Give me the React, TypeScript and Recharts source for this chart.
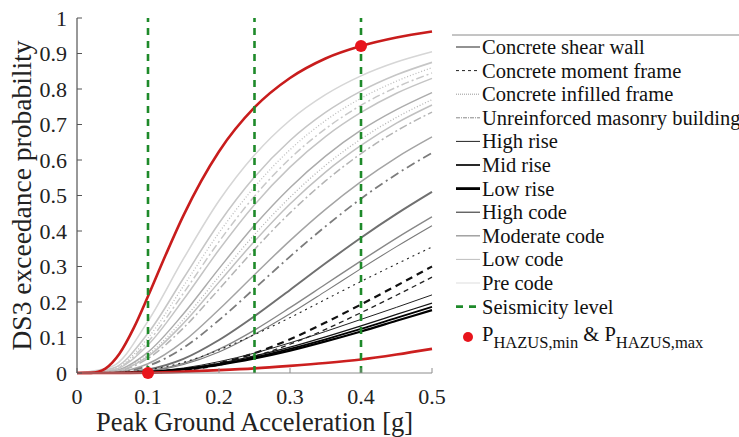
import React from 'react';
import { ComposedChart, Line, Scatter, XAxis, YAxis, ReferenceLine } from 'recharts';

// PGA grid used by the fragility curves [g]
const PGA = [0, 0.05, 0.1, 0.15, 0.2, 0.25, 0.3, 0.35, 0.4, 0.45, 0.5];

// DS3 exceedance probability per building class
const PRE_CODE_A = [0, 0.019, 0.146, 0.322, 0.485, 0.614, 0.712, 0.784, 0.837, 0.876, 0.905];
const LOW_CODE_A = [0, 0.013, 0.112, 0.267, 0.422, 0.552, 0.655, 0.734, 0.794, 0.84, 0.875];
const INFILL_A = [0, 0.01, 0.099, 0.245, 0.395, 0.524, 0.629, 0.711, 0.774, 0.822, 0.86];
const URM_A = [0, 0.009, 0.088, 0.225, 0.37, 0.498, 0.604, 0.688, 0.754, 0.805, 0.845];
const LOW_CODE_B = [0, 0.008, 0.079, 0.207, 0.347, 0.474, 0.58, 0.666, 0.734, 0.788, 0.83];
const MOD_CODE_A = [0, 0.005, 0.059, 0.167, 0.294, 0.416, 0.522, 0.611, 0.684, 0.742, 0.79];
const INFILL_B = [0, 0.004, 0.052, 0.151, 0.272, 0.39, 0.495, 0.585, 0.659, 0.72, 0.77];
const PRE_CODE_B = [0, 0.004, 0.047, 0.14, 0.256, 0.371, 0.476, 0.566, 0.641, 0.704, 0.755];
const URM_B = [0, 0.003, 0.041, 0.127, 0.236, 0.348, 0.451, 0.541, 0.618, 0.682, 0.735];
const MOD_CODE_B = [0, 0.002, 0.026, 0.089, 0.179, 0.277, 0.373, 0.461, 0.539, 0.607, 0.665];
const URM_C = [0, 0.001, 0.02, 0.071, 0.149, 0.238, 0.328, 0.413, 0.491, 0.56, 0.62];
const SHEAR_WALL = [0, 0, 0.01, 0.04, 0.093, 0.16, 0.234, 0.309, 0.381, 0.448, 0.51];
const MOD_CODE_C = [0, 0, 0.006, 0.027, 0.067, 0.121, 0.184, 0.25, 0.316, 0.38, 0.44];
const MOD_CODE_D = [0, 0, 0.005, 0.024, 0.059, 0.109, 0.167, 0.23, 0.294, 0.356, 0.415];
const MOMENT_A = [0, 0.001, 0.009, 0.03, 0.065, 0.108, 0.156, 0.207, 0.258, 0.307, 0.355];
const MOMENT_B = [0, 0, 0.001, 0.009, 0.027, 0.056, 0.095, 0.142, 0.193, 0.246, 0.3];
const MOMENT_C = [0, 0, 0.001, 0.007, 0.022, 0.047, 0.081, 0.123, 0.17, 0.219, 0.27];
const HIGH_RISE = [0, 0, 0.004, 0.014, 0.032, 0.056, 0.085, 0.117, 0.151, 0.185, 0.22];
const HIGH_CODE = [0, 0, 0.003, 0.012, 0.027, 0.048, 0.073, 0.102, 0.133, 0.165, 0.197];
const MID_RISE = [0, 0, 0.003, 0.011, 0.024, 0.044, 0.068, 0.095, 0.124, 0.155, 0.186];
const LOW_RISE = [0, 0, 0.002, 0.01, 0.023, 0.041, 0.063, 0.089, 0.117, 0.147, 0.177];

// HAZUS envelope curves
const RED_PGA = [0, 0.02, 0.03, 0.04, 0.05, 0.06, 0.08, 0.1, 0.125, 0.15, 0.2, 0.25, 0.3, 0.35, 0.4, 0.45, 0.5];
const HAZUS_MAX = [0, 0.0004, 0.0035, 0.0125, 0.03, 0.055, 0.127, 0.216, 0.333, 0.444, 0.624, 0.748, 0.831, 0.886, 0.921, 0.945, 0.962];
const HAZUS_MIN = [0, 0, 0.001, 0.004, 0.008, 0.013, 0.02, 0.028, 0.038, 0.052, 0.068];

const SEISMICITY = [0.1, 0.25, 0.4];
const P_X = [0.1, 0.4];
const P_Y = [0, 0.921];

const X_TICKS = [0, 0.1, 0.2, 0.3, 0.4, 0.5];
const Y_TICKS = [0, 0.1, 0.2, 0.3, 0.4, 0.5, 0.6, 0.7, 0.8, 0.9, 1];

const LEGEND_LABELS = [
  'Concrete shear wall',
  'Concrete moment frame',
  'Concrete infilled frame',
  'Unreinforced masonry building',
  'High rise',
  'Mid rise',
  'Low rise',
  'High code',
  'Moderate code',
  'Low code',
  'Pre code',
  'Seismicity level',
];

const CURVES = [
  { key: 'preA', values: PRE_CODE_A, stroke: '#d6d6d6', w: 1.6 },
  { key: 'lowA', values: LOW_CODE_A, stroke: '#c6c6c6', w: 1.6 },
  { key: 'infA', values: INFILL_A, stroke: '#bdbdbd', w: 1.3, dash: '1 2' },
  { key: 'urmA', values: URM_A, stroke: '#c8c8c8', w: 1.5, dash: '8 3 2 3' },
  { key: 'lowB', values: LOW_CODE_B, stroke: '#c4c4c4', w: 1.5 },
  { key: 'modA', values: MOD_CODE_A, stroke: '#acacac', w: 1.5 },
  { key: 'infB', values: INFILL_B, stroke: '#b4b4b4', w: 1.3, dash: '1 2' },
  { key: 'preB', values: PRE_CODE_B, stroke: '#c0c0c0', w: 1.5 },
  { key: 'urmB', values: URM_B, stroke: '#b4b4b4', w: 1.5, dash: '8 3 2 3' },
  { key: 'modB', values: MOD_CODE_B, stroke: '#a4a4a4', w: 1.5 },
  { key: 'urmC', values: URM_C, stroke: '#7c7c7c', w: 1.8, dash: '9 4 2 4' },
  { key: 'shear', values: SHEAR_WALL, stroke: '#707070', w: 2 },
  { key: 'modC', values: MOD_CODE_C, stroke: '#888888', w: 1.4 },
  { key: 'modD', values: MOD_CODE_D, stroke: '#7a7a7a', w: 1.1 },
  { key: 'momA', values: MOMENT_A, stroke: '#222222', w: 1.1, dash: '2 4' },
  { key: 'momB', values: MOMENT_B, stroke: '#111111', w: 2.2, dash: '7 5' },
  { key: 'momC', values: MOMENT_C, stroke: '#222222', w: 1.3, dash: '5 4' },
  { key: 'hr', values: HIGH_RISE, stroke: '#222222', w: 1 },
  { key: 'hc', values: HIGH_CODE, stroke: '#151515', w: 1.3 },
  { key: 'mr', values: MID_RISE, stroke: '#000000', w: 1.8 },
  { key: 'lr', values: LOW_RISE, stroke: '#000000', w: 2.2 },
];

const LEGEND_STYLES = [
  { stroke: '#777777', w: 1.6 },
  { stroke: '#222222', w: 1, dash: '3 3' },
  { stroke: '#999999', w: 1, dash: '1 1' },
  { stroke: '#888888', w: 1, dash: '4 1 1 1' },
  { stroke: '#222222', w: 1 },
  { stroke: '#111111', w: 1.8 },
  { stroke: '#000000', w: 2.8 },
  { stroke: '#222222', w: 1 },
  { stroke: '#9a9a9a', w: 1.4 },
  { stroke: '#bdbdbd', w: 1 },
  { stroke: '#dddddd', w: 1 },
  { stroke: '#1e8a2a', w: 2.6, dash: '7 6' },
];

const FONT = '"Liberation Serif", "Times New Roman", serif';

const table = PGA.map((x, i) => {
  const row: Record<string, number> = { x };
  CURVES.forEach((c) => {
    row[c.key] = c.values[i];
  });
  row.hmin = HAZUS_MIN[i];
  return row;
});
const maxData = RED_PGA.map((x, i) => ({ x, hmax: HAZUS_MAX[i] }));
const dots = P_X.map((x, i) => ({ x, p: P_Y[i] }));

const fmt = (v: number) => String(v);

function Legend() {
  const x0 = 456;
  const x1 = 480;
  const textStyle = { fontFamily: FONT, fontSize: 20.5, fill: '#111' };
  return (
    <svg width={739} height={437} style={{ position: 'absolute', left: 0, top: 0, pointerEvents: 'none' }}>
      <line x1={452} y1={35} x2={739} y2={35} stroke="#8a8a8a" strokeWidth={1} />
      {LEGEND_LABELS.map((label, i) => {
        const cy = 47 + i * 23.6;
        const s = LEGEND_STYLES[i];
        return (
          <g key={label}>
            <line x1={x0} y1={cy} x2={x1} y2={cy} stroke={s.stroke} strokeWidth={s.w} strokeDasharray={s.dash} />
            <text x={482} y={cy + 7} style={textStyle}>
              {label}
            </text>
          </g>
        );
      })}
      <circle cx={468} cy={337} r={5} fill="#e8141c" />
      <text x={482} y={341} style={textStyle}>
        P
        <tspan style={{ fontSize: 16.5 }} dy={7}>HAZUS,min</tspan>
        <tspan dy={-7}> &amp; P</tspan>
        <tspan style={{ fontSize: 16.5 }} dy={7}>HAZUS,max</tspan>
      </text>
    </svg>
  );
}

export default function App() {
  return (
    <div style={{ position: 'absolute', left: 0, top: 0, width: 739, height: 437, background: '#fff' }}>
      <ComposedChart
        width={739}
        height={437}
        data={table}
        margin={{ top: 18, right: 307, bottom: 0, left: 0 }}
      >
        <XAxis
          dataKey="x"
          type="number"
          domain={[0, 0.5]}
          ticks={X_TICKS}
          tickFormatter={fmt}
          height={64}
          tickSize={-5}
          tickMargin={20}
          axisLine={{ stroke: '#8c8c8c' }}
          tickLine={{ stroke: '#8c8c8c' }}
          tick={{ fill: '#222', fontSize: 22, fontFamily: FONT }}
          label={{
            value: 'Peak Ground Acceleration [g]',
            position: 'insideBottom',
            offset: 6,
            style: { fill: '#222', fontSize: 26.5, fontFamily: FONT },
          }}
        />
        <YAxis
          type="number"
          domain={[0, 1]}
          ticks={Y_TICKS}
          tickFormatter={fmt}
          width={77}
          tickSize={-5}
          tickMargin={15}
          axisLine={{ stroke: '#333' }}
          tickLine={{ stroke: '#555' }}
          tick={{ fill: '#222', fontSize: 22, fontFamily: FONT }}
          label={{
            value: 'DS3 exceedance probability',
            angle: -90,
            position: 'insideLeft',
            offset: 21,
            style: { fill: '#222', fontSize: 27.5, fontFamily: FONT, textAnchor: 'middle' },
          }}
        />
        {CURVES.map((c) => (
          <Line
            key={c.key}
            dataKey={c.key}
            type="monotone"
            stroke={c.stroke}
            strokeWidth={c.w}
            strokeDasharray={c.dash}
            dot={false}
            activeDot={false}
            isAnimationActive={false}
          />
        ))}
        <Line
          dataKey="hmin"
          type="monotone"
          stroke="#cc1f1f"
          strokeWidth={2.6}
          dot={false}
          activeDot={false}
          isAnimationActive={false}
        />
        <Line
          data={maxData}
          dataKey="hmax"
          type="monotone"
          stroke="#c81c1c"
          strokeWidth={2.6}
          dot={false}
          activeDot={false}
          isAnimationActive={false}
        />
        {SEISMICITY.map((s) => (
          <ReferenceLine key={s} x={s} stroke="#1e8a2a" strokeWidth={2.6} strokeDasharray="7 6" />
        ))}
        <Scatter
          data={dots}
          dataKey="p"
          isAnimationActive={false}
          shape={(p: any) => <circle cx={p.cx} cy={p.cy} r={6} fill="#e8141c" />}
        />
      </ComposedChart>
      <Legend />
    </div>
  );
}
